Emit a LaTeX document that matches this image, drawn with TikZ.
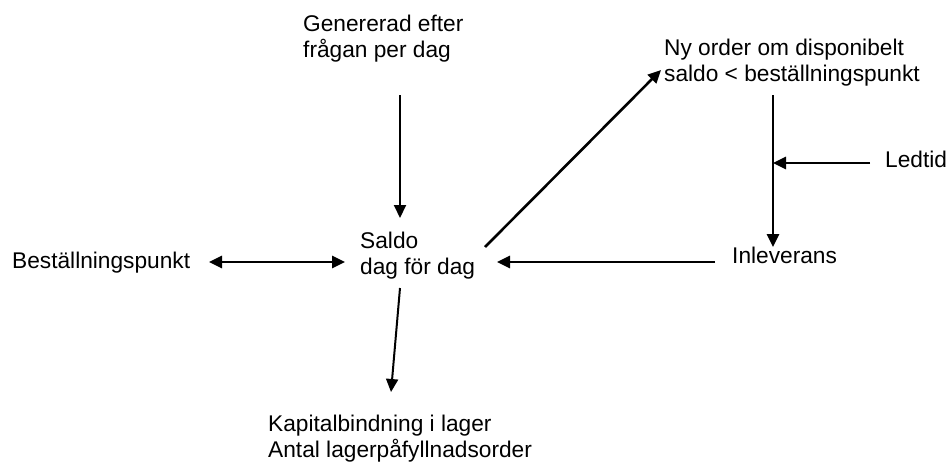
\documentclass[tikz,border=0pt]{standalone}
\usepackage{fontspec}
\setmainfont{Liberation Sans}
\usetikzlibrary{arrows.meta}
\tikzset{
	lbl/.style={inner sep=0pt, align=left, font=\fontsize{22.7}{26}\selectfont},
	flow/.style={line width=2.6pt, -{Triangle[length=13pt,width=12pt]}},
	thinflow/.style={flow, line width=2pt},
}

\begin{document}
\begin{tikzpicture}[x=1pt,y=-1pt]
	\useasboundingbox (0,0) rectangle (948,461);
	\node[lbl,anchor=north west] (gen) at (303,14.5) {Genererad efter\\fr\r{a}gan per dag};
	\node[lbl,anchor=north west] (saldo) at (360,231.4) {Saldo\\dag f\"or dag};
	\node[lbl,anchor=north west] (ny) at (664,38.4) {Ny order om disponibelt\\saldo < best\"allningspunkt};
	\node[lbl,anchor=north west] (kap) at (268,415) {Kapitalbindning i lager\\Antal lagerp\r{a}fyllnadsorder};
	\node[lbl,anchor=base west] (best) at (12,268) {Best\"allningspunkt};
	\node[lbl,anchor=base west] (inl) at (732,263) {Inleverans};
	\node[lbl,anchor=base west] (led) at (885,167) {Ledtid};
	\coordinate (lt) at (773,163);
	% pilar
	\draw[thinflow] ([shift={(97,80.5)}]gen.north west) -- ([shift={(40,-13.4)}]saldo.north west);
	\draw[flow,{Triangle[length=13pt,width=12pt]}-{Triangle[length=13pt,width=12pt]}] ([shift={(197,-6)}]best.base west) -- ([shift={(-15,30.6)}]saldo.north west);
	\draw[flow] ([shift={(125,15.6)}]saldo.north west) -- ([shift={(-3,31.6)}]ny.north west);
	\draw[thinflow] ([shift={(40,56.6)}]saldo.north west) -- ([shift={(123,-23)}]kap.north west);
	\draw[flow] ([shift={(109,56.6)}]ny.north west) -- ([shift={(41,-16)}]inl.base west);
	\draw[flow] ([shift={(-15,-4)}]led.base west) -- (lt);
	\draw[flow] ([shift={(-17,-1)}]inl.base west) -- ([shift={(137,30.6)}]saldo.north west);
\end{tikzpicture}
\end{document}
